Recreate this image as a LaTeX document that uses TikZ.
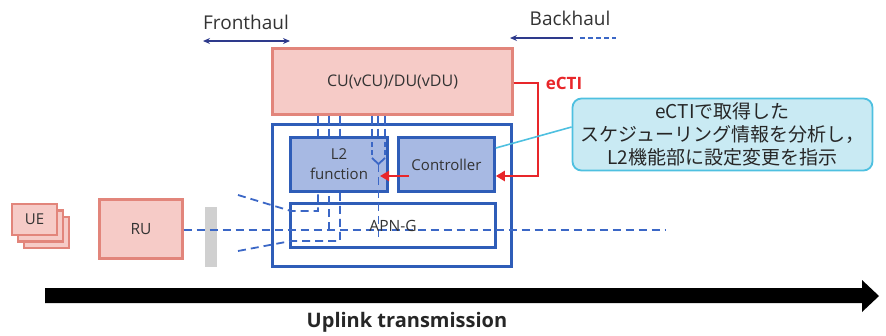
\documentclass[tikz,border=0pt]{standalone}
\usepackage{fontspec}
\setmainfont{Open Sans}
\newfontfamily\jpfont{Noto Sans CJK JP}
\usetikzlibrary{arrows.meta,calc}
\definecolor{pinkfill}{HTML}{F6CBC7}
\definecolor{pinkline}{HTML}{E2857B}
\definecolor{blueline}{HTML}{2F5DB8}
\definecolor{bluefill}{HTML}{A7B9E3}
\definecolor{dashblue}{HTML}{3B67C6}
\definecolor{navy}{HTML}{2E3A8C}
\definecolor{ectired}{HTML}{E8262A}
\definecolor{callfill}{HTML}{C9EAF3}
\definecolor{callline}{HTML}{4EC0E0}
\definecolor{bargray}{HTML}{D0D0D0}
\begin{document}
\begin{tikzpicture}[x=1pt,y=-1pt,
  pinkbox/.style={draw=pinkline,fill=pinkfill,line width=2.2pt,inner sep=0pt},
  bluebox/.style={draw=blueline,line width=2.6pt,inner sep=0pt},
  dashline/.style={draw=dashblue,line width=1.8pt,dash pattern=on 8pt off 5pt},
  tickline/.style={draw=dashblue,line width=1.8pt,dash pattern=on 9pt off 4pt},
  redline/.style={draw=ectired,line width=2.6pt},
  lbl/.style={font=\fontsize{15}{18}\selectfont,text=black!80},
  hdr/.style={font=\fontsize{19}{22}\selectfont,text=black!80}]
\useasboundingbox (0,0) rectangle (886,335);

% header arrows
\node[hdr] (fh) at (246,22) {Fronthaul};
\node[hdr] (bh) at (570,18) {Backhaul};
\coordinate (fhl) at (203,41);
\coordinate (fhr) at (290,41);
\draw[navy,line width=1.5pt,{Stealth[length=7pt,width=6pt]}-{Stealth[length=7pt,width=6pt]}] (fhl) -- (fhr);
\coordinate (bhl) at (510,38);
\coordinate (bhr) at (573,38);
\coordinate (bhd1) at (580,38);
\coordinate (bhd2) at (616,38);
\draw[navy,line width=1.5pt,-{Stealth[length=7pt,width=6pt]}] (bhr) -- (bhl);
\draw[dashblue,line width=1.5pt,dash pattern=on 5pt off 3pt] (bhd1) -- (bhd2);

% CU
\node[pinkbox,minimum width=240pt,minimum height=66pt,
      font=\fontsize{16}{19}\selectfont,text=black!80] (CU) at (392.5,81.5) {CU(vCU)/DU(vDU)};

% host box
\node[bluebox,minimum width=239pt,minimum height=142pt] (host) at (392,195.5) {};
\node[bluebox,fill=bluefill,minimum width=97pt,minimum height=54pt] (L2) at (339,164.5) {};
\node[lbl,align=center] (L2t) at (339,164) {L2\\[2pt]function};
\node[bluebox,fill=bluefill,minimum width=96pt,minimum height=54pt,lbl] (ctl) at (446.5,164.5) {Controller};
\node[bluebox,fill=white,minimum width=205pt,minimum height=44pt] (apn) at (393,225.5) {};

% UE stack and RU
\node[pinkbox,minimum width=45pt,minimum height=31pt] (ue3) at (46.5,232.5) {};
\node[pinkbox,minimum width=45pt,minimum height=31pt] (ue2) at (40.5,226) {};
\node[pinkbox,minimum width=45pt,minimum height=31pt,lbl] (ue1) at (34.5,219.5) {UE};
\node[pinkbox,minimum width=83pt,minimum height=59pt,lbl,font=\fontsize{15.5}{18}\selectfont] (RU) at (141,229) {RU};
\fill[bargray] (205,207) rectangle (217,267);

% dashed data lines
\coordinate (mainend) at (666,230);
\draw[dashline] (RU.east |- 0,230) -- (mainend);
\coordinate (up1) at (238,195);
\coordinate (up2) at (291,211);
\coordinate (lo1) at (238,251);
\coordinate (lo2) at (291,241);
\draw[dashline] (up1) -- (up2) -- (318,211) -- (318,0 |- L2.south);
\draw[dashline] (lo1) -- (lo2) -- (340,241) -- (340,0 |- L2.south);
\draw[dashline] (329,230) -- (329,0 |- L2.south);
\foreach \x in {318,329,340,372,378,385}
  \draw[tickline] (\x,0 |- CU.south) -- (\x,0 |- L2.north);
\draw[draw=dashblue,line width=1.8pt,dash pattern=on 5pt off 3pt] (372,142) -- (372,157);
\draw[draw=dashblue,line width=1.8pt,dash pattern=on 5pt off 3pt] (385,142) -- (385,157);
\coordinate (ymeet) at (378.5,164);
\draw[dashblue,line width=1.8pt] (372,158) -- (ymeet) -- (385,158);
\draw[dashline] (ymeet) -- (378.5,237);
\node[lbl,font=\fontsize{15.5}{18}\selectfont] (apnt) at (393,226) {APN-G};

% eCTI
\draw[redline,-{Triangle[length=9pt,width=10pt]}] (CU.east |- 0,83) -- (538,83) -- (538,176) -- (ctl.east |- 0,176);
\node[font=\bfseries\fontsize{17}{20}\selectfont,text=ectired] (ecti) at (564,83) {eCTI};
\coordinate (rs) at (409,176);
\coordinate (rt) at (380,176);
\draw[redline,-{Triangle[length=9pt,width=10pt]}] (rs) -- (rt);

% callout
\node[draw=callline,fill=callfill,line width=1.8pt,rounded corners=9pt,
      minimum width=300pt,minimum height=72pt,align=center,inner sep=0pt,
      font=\jpfont\fontsize{19}{23}\selectfont,text=black!85] (call) at (722.5,134.5)
      {eCTIで取得した\\スケジューリング情報を分析し，\\L2機能部に設定変更を指示};
\draw[callline,line width=1.6pt] (ctl.east |- 0,148) -- (call.west |- 0,127);

% big arrow
\fill[black] (45,288) -- (862,288) -- (862,280) -- (879,296) -- (862,312) -- (862,303) -- (45,303) -- cycle;
\node[font=\bfseries\fontsize{20}{24}\selectfont,text=black!85] (ul) at (407,322) {Uplink transmission};
\end{tikzpicture}
\end{document}
